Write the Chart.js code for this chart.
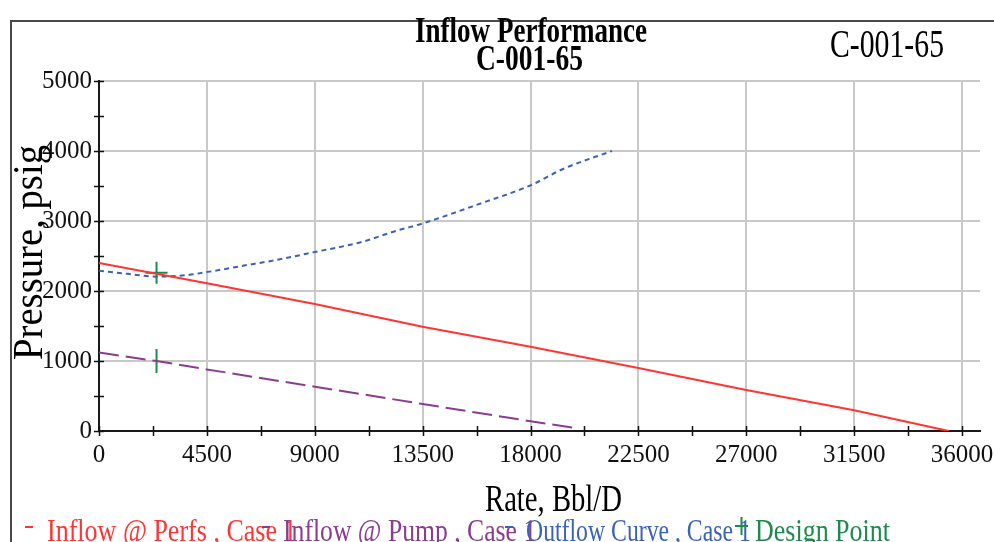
<!DOCTYPE html>
<html>
<head>
<meta charset="utf-8">
<script src="https://cdn.jsdelivr.net/npm/chart.js@4.4.1/dist/chart.umd.min.js"></script>
<style>
  html, body { margin: 0; padding: 0; background: #fff; }
  #wrap { position: relative; width: 994px; height: 542px; }
</style>
</head>
<body>
<div id="wrap"><canvas id="c" width="994" height="542"></canvas></div>
<script>
// Axis ticks
const rateTicks = [0, 4500, 9000, 13500, 18000, 22500, 27000, 31500, 36000];
const rateTickLabels = ['0', '4500', '9000', '13500', '18000', '22500', '27000', '31500', '36000'];
const pressureTicks = [0, 1000, 2000, 3000, 4000, 5000];
const pressureTickLabels = ['0', '1000', '2000', '3000', '4000', '5000'];

// Inflow @ Perfs, Case 1
const ratePerfs = [0, 4500, 9000, 13500, 18000, 22500, 27000, 31500, 35450];
const pwfPerfs = [2400, 2110, 1815, 1490, 1205, 900, 586, 295, 0];

// Inflow @ Pump, Case 1
const ratePump = [0, 2400, 4500, 9000, 13500, 18000, 20000];
const pwfPump = [1120, 1000, 880, 633, 386, 140, 35];

// Outflow Curve, Case 1
const rateOutflow = [0, 1200, 2400, 3600, 4500, 6000, 7500, 9000, 10950, 12400, 13500, 15750, 18000, 19400, 21400];
const pwfOutflow = [2290, 2245, 2205, 2225, 2270, 2360, 2450, 2557, 2700, 2860, 2965, 3230, 3510, 3750, 4000];

// Design Point
const rateDesign = [2400, 2400];
const pwfDesign = [2260, 1000];

const seriesNames = ['Inflow @ Perfs , Case 1', 'Inflow @ Pump , Case 1', 'Outflow Curve , Case 1', 'Design Point'];
const chartTitle = ['Inflow Performance', 'C-001-65'];
const wellName = 'C-001-65';
const xTitle = 'Rate, Bbl/D';
const yTitle = 'Pressure, psig';

const RED = '#ff3434';
const PURPLE = '#8a3d8e';
const BLUE = '#3a62b8';
const GREEN = '#1c8a4c';
const SERIF = '"Liberation Serif", "Times New Roman", serif';

function pts(xs, ys) { return xs.map((x, i) => ({ x: x, y: ys[i] })); }

// Draws text stretched so that `part` spans `width` px and caps are `capH` px tall
function fitText(ctx, text, opts) {
  ctx.save();
  ctx.font = opts.font;
  const w = ctx.measureText(opts.part || text).width;
  const capM = ctx.measureText('H').actualBoundingBoxAscent;
  const sx = opts.width / w;
  const sy = opts.capH / capM;
  ctx.translate(opts.x, opts.y);
  if (opts.rotate) ctx.rotate(opts.rotate);
  ctx.scale(sx, sy);
  ctx.fillStyle = opts.color || '#000';
  ctx.textAlign = 'left';
  ctx.textBaseline = 'alphabetic';
  ctx.fillText(text, 0, 0);
  ctx.restore();
}

const decorPlugin = {
  id: 'decor',
  beforeDraw(chart) {
    const ctx = chart.ctx;
    ctx.save();
    ctx.fillStyle = '#fff';
    ctx.fillRect(0, 0, chart.width, chart.height);
    ctx.strokeStyle = '#4a4a4a';
    ctx.lineWidth = 2;
    ctx.beginPath();
    ctx.moveTo(11, chart.height);
    ctx.lineTo(11, 21);
    ctx.lineTo(chart.width, 21);
    ctx.stroke();
    ctx.restore();
  },
  afterDraw(chart) {
    const ctx = chart.ctx;
    const xs = chart.scales.x, ys = chart.scales.y;
    const xAxisY = ys.getPixelForValue(0);
    const yAxisX = xs.getPixelForValue(0);

    // small tick marks crossing both axes (major + minor)
    ctx.save();
    ctx.strokeStyle = '#111';
    ctx.lineWidth = 1.5;
    ctx.beginPath();
    for (let v = 0; v <= 36000; v += 2250) {
      const px = Math.round(xs.getPixelForValue(v)) + 0.5;
      ctx.moveTo(px, xAxisY - 5);
      ctx.lineTo(px, xAxisY + 5);
    }
    for (let v = 0; v <= 5000; v += 500) {
      const py = Math.round(ys.getPixelForValue(v)) + 0.5;
      ctx.moveTo(yAxisX - 5, py);
      ctx.lineTo(yAxisX + 5, py);
    }
    ctx.stroke();
    ctx.restore();

    // titles
    fitText(ctx, chartTitle[0], { font: 'bold 30px ' + SERIF, x: 415, y: 42, width: 232, capH: 23 });
    fitText(ctx, chartTitle[1], { font: 'bold 30px ' + SERIF, x: 476, y: 70, width: 107, capH: 23 });
    fitText(ctx, wellName, { font: '30px ' + SERIF, x: 830, y: 57, width: 114, capH: 26 });

    // axis titles
    fitText(ctx, xTitle, { font: '30px ' + SERIF, x: 485, y: 511, width: 137, capH: 24 });
    fitText(ctx, yTitle, { font: '30px ' + SERIF, x: 42, y: 360, width: 215, capH: 27, rotate: -Math.PI / 2 });

    // legend row
    const legendY = 541;
    const entries = [
      { color: RED, markX: 25, textX: 47, width: 230 },
      { color: PURPLE, markX: 262, textX: 283, width: 234 },
      { color: BLUE, markX: 505, textX: 526, width: 207 }
    ];
    entries.forEach((e, i) => {
      ctx.save();
      ctx.strokeStyle = e.color;
      ctx.lineWidth = 2;
      ctx.beginPath();
      ctx.moveTo(e.markX, 527);
      ctx.lineTo(e.markX + 8, 527);
      ctx.stroke();
      ctx.restore();
      const name = seriesNames[i];
      fitText(ctx, name, {
        font: '30px ' + SERIF, x: e.textX, y: legendY, width: e.width, capH: 20,
        color: e.color, part: name.slice(0, name.length - 2)
      });
    });
    ctx.save();
    ctx.strokeStyle = GREEN;
    ctx.lineWidth = 2;
    ctx.beginPath();
    ctx.moveTo(735, 526); ctx.lineTo(748, 526);
    ctx.moveTo(741.5, 517); ctx.lineTo(741.5, 535);
    ctx.stroke();
    ctx.restore();
    fitText(ctx, seriesNames[3], { font: '30px ' + SERIF, x: 755, y: legendY, width: 135, capH: 20, color: GREEN });
  }
};

const tickFont = { family: SERIF, size: 25 };

new Chart(document.getElementById('c'), {
  type: 'scatter',
  data: {
    datasets: [
      {
        label: seriesNames[0], data: pts(ratePerfs, pwfPerfs), showLine: true,
        borderColor: RED, backgroundColor: RED, borderWidth: 2, pointRadius: 0, tension: 0
      },
      {
        label: seriesNames[1], data: pts(ratePump, pwfPump), showLine: true,
        borderColor: PURPLE, backgroundColor: PURPLE, borderWidth: 2, borderDash: [20, 7], pointRadius: 0, tension: 0
      },
      {
        label: seriesNames[2], data: pts(rateOutflow, pwfOutflow), showLine: true,
        borderColor: BLUE, backgroundColor: BLUE, borderWidth: 2, borderDash: [5, 4], pointRadius: 0,
        cubicInterpolationMode: 'monotone'
      },
      {
        label: seriesNames[3], data: pts(rateDesign, pwfDesign), showLine: false,
        borderColor: GREEN, backgroundColor: GREEN, borderWidth: 2,
        pointStyle: ['cross', 'line'], rotation: [0, 90], pointRadius: [11, 12], pointHoverRadius: [11, 12]
      }
    ]
  },
  options: {
    responsive: false,
    animation: false,
    devicePixelRatio: 1,
    layout: { padding: { top: 81, right: 9, bottom: 0, left: 0 } },
    plugins: { legend: { display: false }, title: { display: false }, tooltip: { enabled: false } },
    scales: {
      x: {
        type: 'linear', min: 0, max: 36750,
        afterBuildTicks: s => { s.ticks = rateTicks.map(v => ({ value: v })); },
        afterFit: s => { s.height = 111; s.paddingLeft = 0; s.paddingRight = 0; },
        grid: { color: '#c9c9c9', lineWidth: 2, drawTicks: false },
        border: { color: '#1a1a1a', width: 2 },
        ticks: {
          font: tickFont, color: '#111', padding: 9, maxRotation: 0, autoSkip: false,
          callback: v => rateTickLabels[rateTicks.indexOf(v)]
        }
      },
      y: {
        type: 'linear', min: 0, max: 5000,
        afterBuildTicks: s => { s.ticks = pressureTicks.map(v => ({ value: v })); },
        afterFit: s => { s.width = 99; s.paddingTop = 0; s.paddingBottom = 0; },
        grid: { color: '#c9c9c9', lineWidth: 2, drawTicks: false },
        border: { color: '#1a1a1a', width: 2 },
        ticks: {
          font: tickFont, color: '#111', padding: 7,
          callback: v => pressureTickLabels[pressureTicks.indexOf(v)]
        }
      }
    }
  },
  plugins: [decorPlugin]
});
</script>
</body>
</html>
